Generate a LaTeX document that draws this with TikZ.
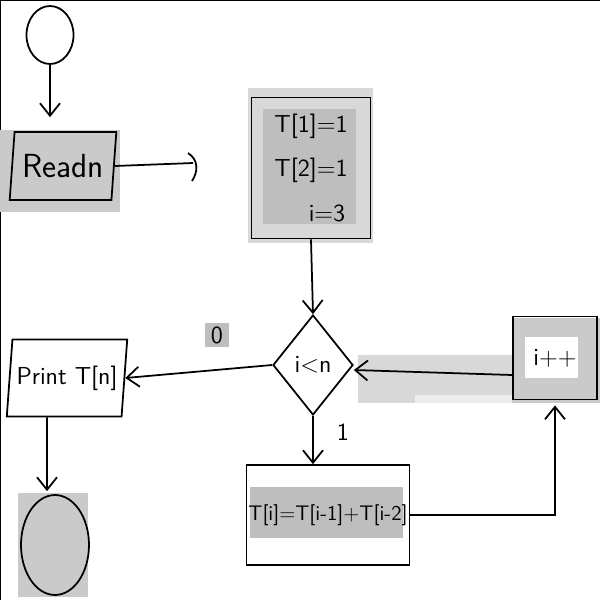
\documentclass[tikz,border=0pt]{standalone}
\usepackage{tikz}
\usetikzlibrary{arrows.meta,shapes.geometric,positioning}
\definecolor{skgrey}{RGB}{202,202,202}
\definecolor{sklightgrey}{RGB}{216,216,216}
\definecolor{skdarkgrey}{RGB}{190,190,190}
\definecolor{skpale}{RGB}{236,236,236}
\tikzstyle{terminal} = [ellipse, draw, line width=1pt, inner sep=0pt]
\tikzstyle{io} = [trapezium, trapezium left angle=80, trapezium right angle=100, trapezium stretches=true, draw, line width=1pt, inner sep=0pt, text centered]
\tikzstyle{process} = [rectangle, draw, line width=1pt, inner sep=0pt, text centered]
\tikzstyle{decision} = [diamond, draw, line width=1pt, inner sep=0pt, aspect=0.8]
\tikzstyle{arrow} = [line width=1pt, -{Straight Barb[length=2.5mm,width=4mm]}]
\tikzstyle{edgelabel} = [inner sep=2pt]

\begin{document}
\begin{tikzpicture}[x=0.02cm, y=-0.02cm, font=\sffamily\fontsize{14}{17}\selectfont]
\useasboundingbox (0,0) rectangle (600,600);
% frame
\draw[line width=1.2pt] (0,600) -- (0,0) -- (600,0);

% grey backdrops
\fill[skgrey] (0,130) rectangle (120,212);
\fill[sklightgrey] (248,88) rectangle (373,243);
\fill[skdarkgrey] (263,109) rectangle (356,224);
\fill[sklightgrey] (358,355) rectangle (512,403);
\fill[skpale] (415,395) rectangle (512,403);
\fill[skgrey] (512,318) rectangle (600,403);
\fill[white] (525,337) rectangle (578,378);
\fill[skdarkgrey] (250,487) rectangle (403,538);
\fill[skgrey] (18,493) rectangle (88,597);

% start / input
\node[terminal, minimum width=0.94cm, minimum height=1.16cm] (start) at (50,35) {};
\node[io, minimum width=2.14cm, minimum height=1.36cm, font=\sffamily\fontsize{19}{22}\selectfont] (read) at (63,166) {\raisebox{-0.22cm}{Readn}};
\coordinate (readend) at (193,163);

% init
\node[process, minimum width=2.38cm, minimum height=2.82cm, align=center] (init) at (311,168) {T[1]=1\\[0.3cm]T[2]=1\\[0.3cm]\hspace*{1.3em}i=3};

% condition
\node[decision, minimum width=1.6cm, minimum height=2.0cm] (cond) at (313,365) {i<n};
\node[edgelabel, fill=skdarkgrey, minimum width=0.5cm, minimum height=0.48cm] (no) at (217,335) {0};
\node[edgelabel] (yes) at (343,432) {1};

% output / stop
\node[io, trapezium left angle=78, trapezium right angle=102, minimum width=2.42cm, minimum height=1.54cm] (print) at (67,378) {Print T[n]};
\node[terminal, minimum width=1.36cm, minimum height=2.0cm] (stop) at (55,545) {};

% loop body
\node[process, minimum width=3.26cm, minimum height=2.0cm, font=\sffamily\fontsize{12}{14}\selectfont] (calc) at (328,515) {\raisebox{-0.14cm}{T[i]=T[i-1]+T[i-2]}};
\node[process, minimum width=1.68cm, minimum height=1.66cm] (incr) at (555,358) {i++};

\draw[arrow, shorten >=0.28cm] (start.south) -- (start.south |- read.north);
\draw[line width=1pt] (read.east) -- (readend);
\draw[line width=1pt] (188,153) .. controls (199,160) and (198,172) .. (192,181);
\draw[arrow] (init.south) -- (cond.north);
\draw[arrow] (cond.west) -- (print.east);
\draw[arrow] ([yshift=-0.34cm]incr.west) -- ([yshift=-0.1cm]cond.east);
\draw[arrow] (cond.south) -- (cond.south |- calc.north);
\draw[arrow, shorten >=0.1cm] (calc.east) -| (incr.south);
\draw[arrow, shorten >=0.06cm] ([xshift=-0.4cm]print.south) -- ([xshift=-0.16cm]stop.north);
\end{tikzpicture}
\end{document}
